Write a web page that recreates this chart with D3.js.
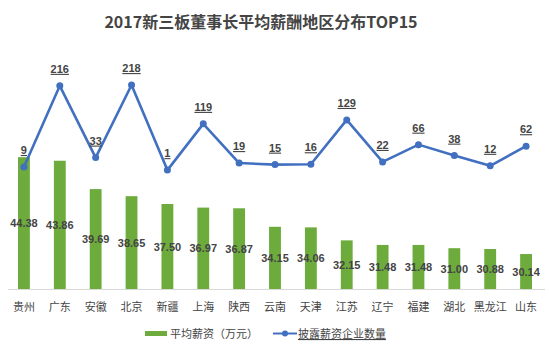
<!DOCTYPE html>
<html><head><meta charset="utf-8">
<script src="https://cdn.jsdelivr.net/npm/d3@7"></script>
<style>body{margin:0;background:#fff;}svg{display:block;font-family:"Noto Sans CJK SC","Noto Sans",sans-serif;}</style>
</head><body><svg id="c" width="550" height="350"></svg>
<script>
const title = "2017新三板董事长平均薪酬地区分布TOP15";
const categories = ["贵州","广东","安徽","北京","新疆","上海","陕西","云南","天津","江苏","辽宁","福建","湖北","黑龙江","山东"];
const salary = [44.38,43.86,39.69,38.65,37.50,36.97,36.87,34.15,34.06,32.15,31.48,31.48,31.00,30.88,30.14];
const companies = [9,216,33,218,1,119,19,15,16,129,22,66,38,12,62];
const legendNames = ["平均薪资（万元）","披露薪资企业数量"];

const green = "#6cab3c", blue = "#4270c0", txt = "#444";
const svg = d3.select("#c");

const x = d3.scaleBand().domain(categories).range([6,544]).paddingInner(0.67).paddingOuter(0.335);
const yBar = d3.scaleLinear().domain([25,50]).range([289,119]);
const yLine = d3.scaleLinear().domain([0,250]).range([170.5,72.5]);
const cx = c => x(c) + x.bandwidth()/2;

svg.append("text").attr("x",261).attr("y",28).attr("text-anchor","middle")
  .attr("font-size",16).attr("font-weight","bold").attr("fill","#444").text(title);

// bars
svg.selectAll("rect.bar").data(categories).join("rect").attr("class","bar")
  .attr("x",c=>x(c)).attr("width",x.bandwidth())
  .attr("y",(c,i)=>yBar(salary[i])).attr("height",(c,i)=>yBar(25)-yBar(salary[i]))
  .attr("fill",green);

// axis line
svg.append("line").attr("x1",8).attr("x2",545).attr("y1",289.5).attr("y2",289.5).attr("stroke","#d9d9d9");

// bar labels
svg.selectAll("text.bl").data(categories).join("text").attr("class","bl")
  .attr("x",c=>cx(c)).attr("y",(c,i)=>(yBar(salary[i])+yBar(25))/2+4)
  .attr("text-anchor","middle").attr("font-size",11).attr("font-weight","bold").attr("fill",txt)
  .attr("font-family","'Liberation Sans',Arial,sans-serif")
  .text((c,i)=>salary[i].toFixed(2));

// line
const line = d3.line().x((d,i)=>cx(categories[i])).y(d=>yLine(d));
svg.append("path").datum(companies).attr("d",line).attr("fill","none").attr("stroke",blue).attr("stroke-width",2.6).attr("stroke-linejoin","round");
svg.selectAll("circle.pt").data(companies).join("circle").attr("class","pt")
  .attr("cx",(d,i)=>cx(categories[i])).attr("cy",d=>yLine(d)).attr("r",3.5).attr("fill",blue);

// line labels
svg.selectAll("text.ll").data(companies).join("text").attr("class","ll")
  .attr("x",(d,i)=>cx(categories[i])).attr("y",d=>yLine(d)-13)
  .attr("text-anchor","middle").attr("font-size",11).attr("font-weight","bold").attr("fill",txt)
  .attr("font-family","'Liberation Sans',Arial,sans-serif").attr("text-decoration","underline")
  .text(d=>d);

// category labels
svg.selectAll("text.cat").data(categories).join("text").attr("class","cat")
  .attr("x",c=>cx(c)).attr("y",311).attr("text-anchor","middle").attr("font-size",11).attr("fill",txt).text(c=>c);

// legend
const lg = svg.append("g");
lg.append("rect").attr("x",145).attr("y",331).attr("width",22).attr("height",5).attr("fill",green);
lg.append("text").attr("x",170).attr("y",338).attr("font-size",11).attr("fill",txt).text(legendNames[0]);
lg.append("line").attr("x1",273).attr("x2",297).attr("y1",333.5).attr("y2",333.5).attr("stroke",blue).attr("stroke-width",2);
lg.append("circle").attr("cx",285).attr("cy",333.5).attr("r",3).attr("fill",blue);
lg.append("text").attr("x",298).attr("y",338).attr("font-size",11).attr("fill",txt).attr("text-decoration","underline").text(legendNames[1]);
</script></body></html>
